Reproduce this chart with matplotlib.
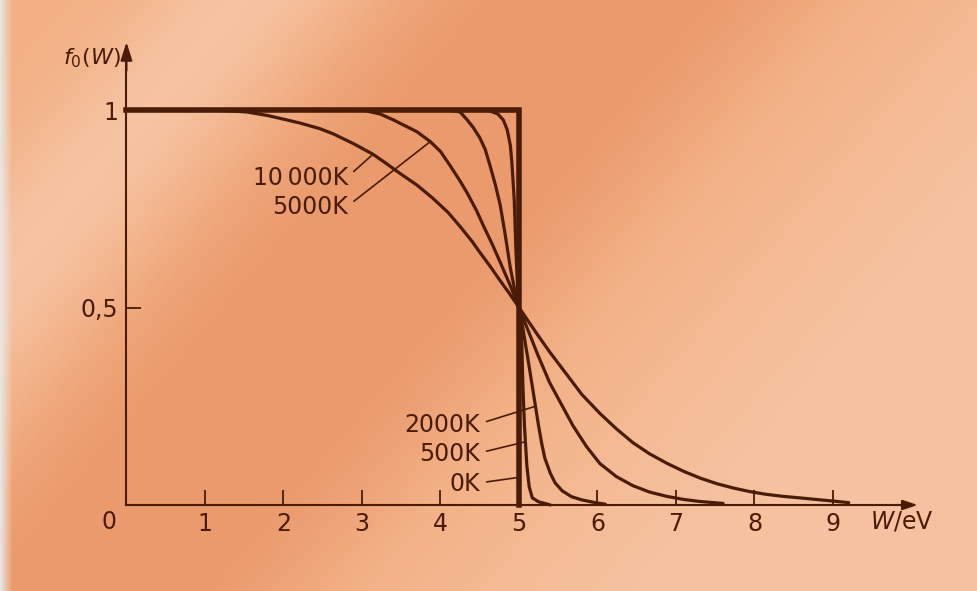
import numpy as np
import matplotlib
matplotlib.use("Agg")
import matplotlib.pyplot as plt

plt.rcParams["font.family"] = "DejaVu Sans"
plt.rcParams["mathtext.fontset"] = "dejavusans"

# occupation probability f0(W) for each temperature, W in eV (Fermi level at 5 eV)
w_0K = [0, 5, 5]
f_0K = [1, 1, 0]

w_500K = [0, 4.60, 4.73, 4.80, 4.85, 4.89, 4.91, 4.94, 4.96, 4.98, 5.00, 5.03,
          5.05, 5.07, 5.10, 5.13, 5.17, 5.25, 5.33, 5.40]
f_500K = [1, 1.0, 0.99, 0.975, 0.95, 0.91, 0.866, 0.77, 0.65, 0.56, 0.50, 0.45,
          0.30, 0.20, 0.10, 0.046, 0.018, 0.008, 0.004, 0.0]

w_2000K = [0, 4.10, 4.25, 4.34, 4.42, 4.50, 4.57, 4.63, 4.70, 4.76, 4.82, 4.89,
           4.95, 5.00, 5.04, 5.08, 5.13, 5.17, 5.21, 5.25, 5.29, 5.33, 5.40,
           5.46, 5.55, 5.67, 5.80, 5.97, 6.10]
f_2000K = [1, 1.0, 0.995, 0.975, 0.955, 0.93, 0.90, 0.86, 0.81, 0.76, 0.69, 0.60,
           0.54, 0.50, 0.46, 0.41, 0.35, 0.30, 0.25, 0.20, 0.155, 0.118, 0.08,
           0.056, 0.036, 0.021, 0.013, 0.006, 0.002]

w_5000K = [0, 3.00, 3.23, 3.40, 3.55, 3.70, 3.87, 4.00, 4.12, 4.25, 4.34, 4.46,
           4.54, 4.66, 4.76, 4.89, 5.00, 5.10, 5.24, 5.39, 5.54, 5.69, 5.86,
           6.03, 6.24, 6.45, 6.66, 6.88, 7.10, 7.30, 7.60]
f_5000K = [1, 1.0, 0.99, 0.975, 0.96, 0.945, 0.92, 0.895, 0.86, 0.82, 0.79, 0.745,
           0.71, 0.66, 0.615, 0.555, 0.50, 0.45, 0.38, 0.31, 0.255, 0.20, 0.148,
           0.105, 0.072, 0.049, 0.033, 0.022, 0.014, 0.009, 0.004]

w_10000K = [0, 1.00, 1.30, 1.53, 1.80, 2.04, 2.21, 2.46, 2.63, 2.89, 3.14, 3.30,
            3.48, 3.70, 3.90, 4.10, 4.25, 4.40, 4.50, 4.63, 4.76, 4.88, 5.00,
            5.12, 5.24, 5.40, 5.61, 5.80, 6.03, 6.24, 6.45, 6.66, 6.88, 7.10,
            7.31, 7.52, 7.73, 7.94, 8.15, 8.36, 8.58, 8.79, 9.00, 9.20]
f_10000K = [1, 1.0, 0.998, 0.995, 0.986, 0.975, 0.967, 0.953, 0.94, 0.915, 0.888, 0.866,
            0.84, 0.81, 0.777, 0.74, 0.705, 0.668, 0.64, 0.605, 0.568, 0.535, 0.50,
            0.465, 0.43, 0.385, 0.33, 0.28, 0.232, 0.193, 0.158, 0.13, 0.106, 0.085,
            0.068, 0.054, 0.043, 0.034, 0.027, 0.022, 0.018, 0.014, 0.01, 0.006]

x_ticks = [1, 2, 3, 4, 5, 6, 7, 8, 9]
y_ticks = [0.5, 1]
y_ticklabels = ["0,5", "1"]

ink = "#4a1c08"

fig = plt.figure(figsize=(9.78, 5.91), dpi=100)

# paper background: orange with soft diagonal light/dark streaks
H, Wpx = 591, 978
yy, xx = np.mgrid[0:H, 0:Wpx]
s = xx + 0.85 * yy
base = np.array([243, 176, 132]) / 255
dark = np.array([234, 154, 108]) / 255
light = np.array([246, 200, 170]) / 255
img = np.ones((H, Wpx, 3)) * base
dark_w = np.exp(-((s - 600) / 210) ** 4)
streak_w = np.exp(-((s - 240) / 100) ** 2)
right_w = 1 / (1 + np.exp(-(s - 980) / 70))
img += (dark - base) * dark_w[..., None]
img += (light - base) * 0.8 * streak_w[..., None]
img += (light - base) * 0.75 * right_w[..., None]
edge_w = np.clip(1 - xx / 12, 0, 1)
img += (np.array([0.92, 0.90, 0.89]) - img) * edge_w[..., None]
bg = fig.add_axes([0, 0, 1, 1])
bg.imshow(np.clip(img, 0, 1), aspect="auto", interpolation="bilinear")
bg.axis("off")

ax = fig.add_axes([0, 0, 1, 1])
ax.patch.set_alpha(0)
ax.set_xlim(-1.611, 10.847)
ax.set_ylim(-0.2177, 1.2785)

# axes through the origin
for side in ["top", "right"]:
    ax.spines[side].set_visible(False)
ax.spines["left"].set_position(("data", 0))
ax.spines["bottom"].set_position(("data", 0))
ax.spines["left"].set_bounds(0, 1.12)
ax.spines["bottom"].set_bounds(0, 9.95)
for side in ["left", "bottom"]:
    ax.spines[side].set_color(ink)
    ax.spines[side].set_linewidth(1.5)
ax.annotate("", xy=(10.08, 0), xytext=(9.80, 0),
            arrowprops=dict(arrowstyle="-|>,head_length=0.9,head_width=0.3",
                            color=ink, lw=1.5, shrinkA=0, shrinkB=0))
ax.annotate("", xy=(0, 1.172), xytext=(0, 1.10),
            arrowprops=dict(arrowstyle="-|>,head_length=1.1,head_width=0.35",
                            color=ink, lw=1.5, shrinkA=0, shrinkB=0))

ax.set_xticks(x_ticks)
ax.set_xticklabels([str(t) for t in x_ticks])
ax.set_yticks(y_ticks)
ax.set_yticklabels(y_ticklabels)
ax.tick_params(direction="in", length=11, width=1.3, color=ink,
               labelcolor=ink, labelsize=17)
ax.tick_params(axis="x", pad=5)
ax.tick_params(axis="y", pad=6)
ax.text(-0.22, -0.043, "0", ha="center", va="center", fontsize=17, color=ink)

ax.text(-0.07, 1.13, r"$f_0(W)$", ha="right", va="center", fontsize=16, color=ink)
ax.text(9.88, -0.043, r"$W$/eV", ha="center", va="center", fontsize=17, color=ink)

# distribution curves
ax.plot(w_10000K, f_10000K, color=ink, lw=2.3, solid_capstyle="round",
        solid_joinstyle="round")
ax.plot(w_5000K, f_5000K, color=ink, lw=2.3, solid_capstyle="round",
        solid_joinstyle="round")
ax.plot(w_2000K, f_2000K, color=ink, lw=2.3, solid_capstyle="round",
        solid_joinstyle="round")
ax.plot(w_500K, f_500K, color=ink, lw=2.3, solid_capstyle="round",
        solid_joinstyle="round")
ax.plot(w_0K, f_0K, color=ink, lw=4.0, solid_joinstyle="miter")

# curve labels with leader lines
leader = dict(arrowstyle="-", color=ink, lw=1.2, shrinkA=3, shrinkB=0,
              relpos=(1.0, 0.55))
ax.annotate("10\u2009000K", xy=(3.14, 0.888), xytext=(2.82, 0.828), ha="right",
            va="center", fontsize=17, color=ink, arrowprops=leader)
ax.annotate("5000K", xy=(3.87, 0.92), xytext=(2.82, 0.754), ha="right",
            va="center", fontsize=17, color=ink, arrowprops=leader)
ax.annotate("2000K", xy=(5.21, 0.25), xytext=(4.50, 0.203), ha="right",
            va="center", fontsize=17, color=ink, arrowprops=leader)
ax.annotate("500K", xy=(5.08, 0.16), xytext=(4.50, 0.129), ha="right",
            va="center", fontsize=17, color=ink, arrowprops=leader)
ax.annotate("0K", xy=(5.0, 0.07), xytext=(4.50, 0.053), ha="right",
            va="center", fontsize=17, color=ink, arrowprops=leader)

fig.savefig("out.png", dpi=100)
